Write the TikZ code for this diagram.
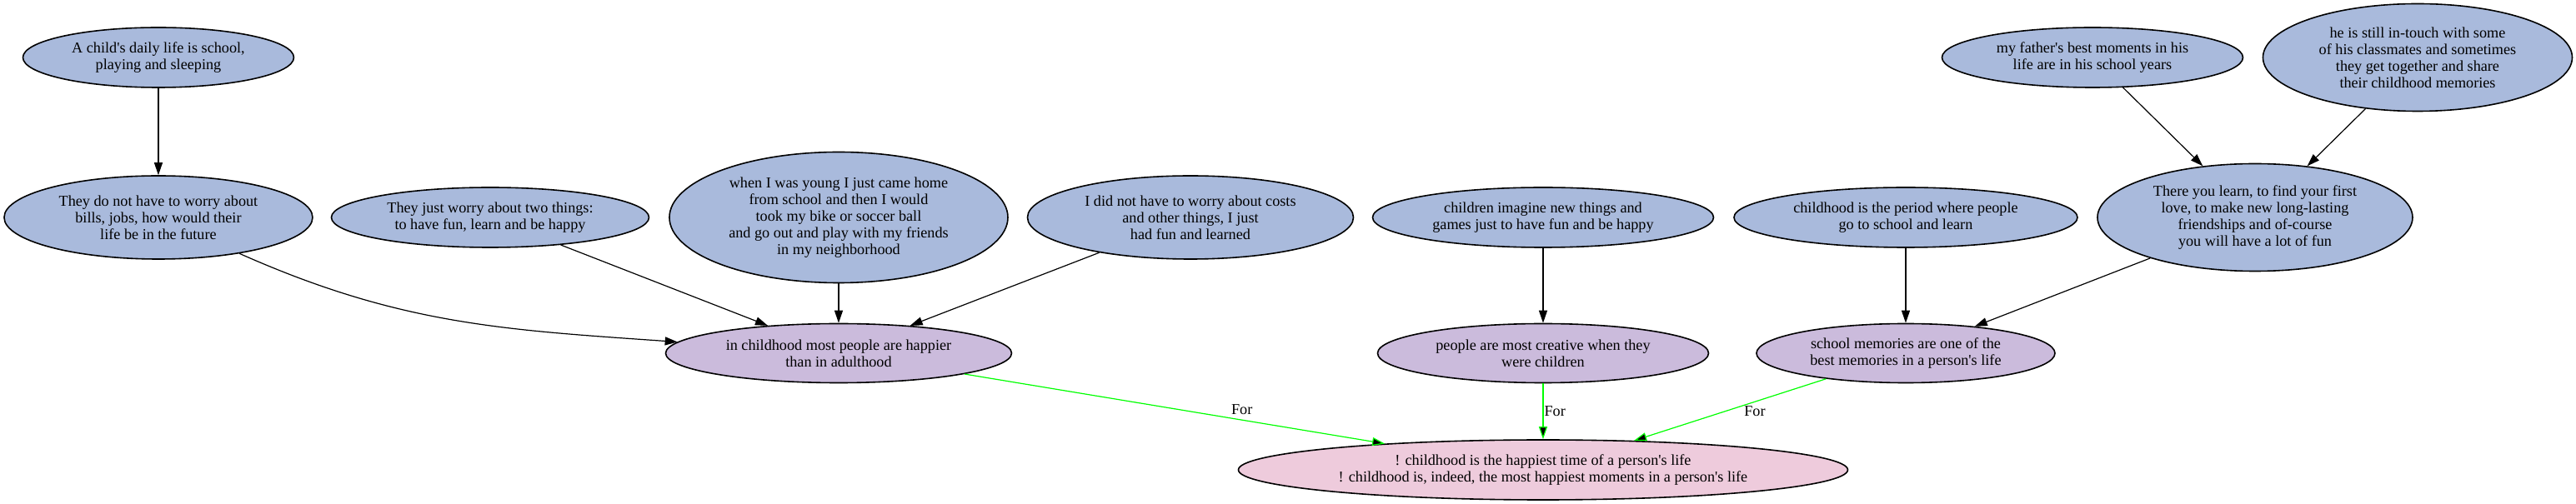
\documentclass[tikz,border=0pt]{standalone}
\usepackage{fontspec}
\setmainfont{Liberation Serif}[Ligatures=TeXOff]
\usetikzlibrary{arrows.meta,shapes.geometric,positioning}

\definecolor{premblue}{HTML}{A9BADC}
\definecolor{claimpurple}{HTML}{CBBBDC}
\definecolor{thesispink}{HTML}{EECBDC}
\definecolor{forgreen}{HTML}{00FF00}

\tikzstyle{premise} = [ellipse, draw=black, line width=0.8pt, fill=premblue, inner sep=0pt, align=center, minimum height=36pt]
\tikzstyle{claim} = [ellipse, draw=black, line width=0.8pt, fill=claimpurple, inner sep=0pt, align=center, minimum height=35.5pt]
\tikzstyle{thesis} = [ellipse, draw=black, line width=0.8pt, fill=thesispink, inner sep=0pt, align=center, minimum height=36pt]

\begin{document}
\begin{tikzpicture}[->,>={Triangle[length=7.5pt,width=5pt]},line width=0.6pt,node distance=81.5pt,font=\fontsize{9.1}{10}\selectfont]
\useasboundingbox (-925.5pt,-20.5pt) rectangle (619.5pt,282pt);

    \node[thesis, minimum width=365.5pt] (R) {! childhood is the happiest time of a person's life\\! childhood is, indeed, the most happiest moments in a person's life};

    \node[claim, minimum width=198.5pt] (P2) [above of=R, yshift=-11.5pt] {people are most creative when they\\were children};
    \node[claim, minimum width=207.5pt] (P1) [left of=P2, xshift=-341pt] {in childhood most people are happier\\than in adulthood};
    \node[claim, minimum width=179pt] (P3) [right of=P2, xshift=136pt] {school memories are one of the\\best memories in a person's life};

    \node[premise, minimum width=204.5pt] (F) [above of=P2] {children imagine new things and\\games just to have fun and be happy};
    \node[premise, minimum width=206pt] (G) [above of=P3] {childhood is the period where people\\go to school and learn};
    \node[premise, minimum width=203pt, minimum height=78.5pt] (D) [above of=P1] {when I was young I just came home\\from school and then I would\\took my bike or soccer ball\\and go out and play with my friends\\in my neighborhood};
    \node[premise, minimum width=190.5pt] (C) [left of=D, xshift=-127.5pt] {They just worry about two things:\\to have fun, learn and be happy};
    \node[premise, minimum width=185pt, minimum height=50pt] (B) [left of=C, xshift=-117.5pt] {They do not have to worry about\\bills, jobs, how would their\\life be in the future};
    \node[premise, minimum width=195.5pt, minimum height=50pt] (E) [right of=D, xshift=129.5pt] {I did not have to worry about costs\\and other things, I just\\had fun and learned};
    \node[premise, minimum width=189pt, minimum height=64.5pt] (J) [right of=G, xshift=128pt] {There you learn, to find your first\\love, to make new long-lasting\\friendships and of-course\\you will have a lot of fun};

    \node[premise, minimum width=162.5pt] (A) [above of=B, yshift=14.5pt] {A child's daily life is school,\\playing and sleeping};
    \node[premise, minimum width=180.5pt] (H) [above of=J, xshift=-97.5pt, yshift=14.5pt] {my father's best moments in his\\life are in his school years};
    \node[premise, minimum width=185.5pt, minimum height=64.5pt] (I) [above of=J, xshift=97.5pt, yshift=14.5pt] {he is still in-touch with some\\of his classmates and sometimes\\they get together and share\\their childhood memories};

    \path
    (A) edge (B)
    (B) edge[out=-24, in=176] (P1)
    (C) edge (P1)
    (D) edge (P1)
    (E) edge (P1)
    (F) edge (P2)
    (G) edge (P3)
    (H) edge (J)
    (I) edge (J)
    (J) edge (P3);

    \path[draw=forgreen]
    (P1) edge node[pos=0.66, above, inner sep=3pt] (l1) {For} (R)
    (P2) edge node[pos=0.5, right, inner sep=0.5pt] (l2) {For} (R)
    (P3) edge node[pos=0.52, right, inner sep=0.5pt, xshift=10pt] (l3) {For} (R);

\end{tikzpicture}
\end{document}
